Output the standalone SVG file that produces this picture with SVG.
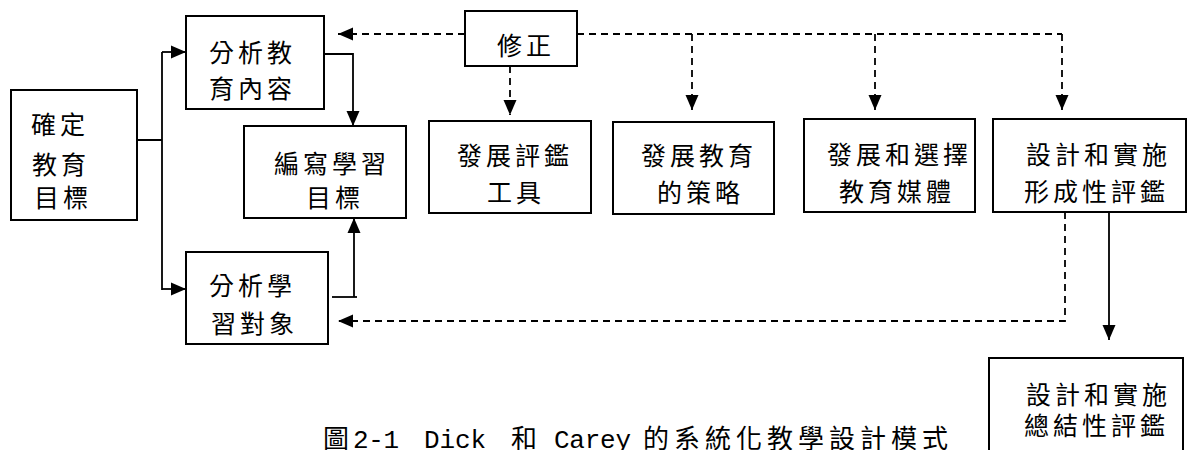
<svg xmlns="http://www.w3.org/2000/svg" width="1187" height="450" viewBox="0 0 1187 450">
<defs>
<marker id="arr" markerUnits="userSpaceOnUse" markerWidth="16" markerHeight="14" refX="15" refY="7" orient="auto">
<path d="M0,0.5 L15,7 L0,13.5 z" fill="#000"/>
</marker>
</defs>
<style>
.box{fill:#fff;stroke:#000;stroke-width:2}
.t{font-family:"Noto Sans CJK TC","Noto Sans CJK SC",sans-serif;font-size:25px;letter-spacing:4px;fill:#000}
.cap{font-family:"Noto Sans CJK TC",sans-serif;font-size:26px;fill:#000}
.lat{font-family:"Liberation Mono",monospace;font-size:26px}
.s{fill:none;stroke:#000;stroke-width:1.8}
.d{fill:none;stroke:#000;stroke-width:1.8;stroke-dasharray:7 5}
</style>
<rect width="1187" height="450" fill="#fff"/>
<g id="connectors">
<path class="s" d="M137,140 H162 M162,52 V290"/>
<path class="s" d="M162,52 H186" marker-end="url(#arr)"/>
<path class="s" d="M162,289 H186" marker-end="url(#arr)"/>
<path class="s" d="M317,54 H353 V126" marker-end="url(#arr)"/>
<path class="s" d="M332,297 H357"/>
<path class="s" d="M354,297 V218" marker-end="url(#arr)"/>
<path class="s" d="M1109,212 V340" marker-end="url(#arr)"/>
<path class="d" d="M465,34 H338" marker-end="url(#arr)"/>
<path class="d" d="M577,34 H1062"/>
<path class="d" d="M510,66 V115" marker-end="url(#arr)"/>
<path class="d" d="M692,34 V110" marker-end="url(#arr)"/>
<path class="d" d="M875,34 V110" marker-end="url(#arr)"/>
<path class="d" d="M1062,34 V110" marker-end="url(#arr)"/>
<path class="d" d="M1065,212 V321 H338" marker-end="url(#arr)"/>
</g>
<g id="n1"><rect class="box" x="11" y="90" width="126" height="130"/>
<text class="t" x="31" y="134">確定</text><text class="t" x="32" y="174">教育</text><text class="t" x="34" y="207">目標</text></g>
<g id="n2"><rect class="box" x="186" y="16" width="138" height="93"/>
<text class="t" x="209" y="62">分析教</text><text class="t" x="209" y="98">育內容</text></g>
<g id="n3"><rect class="box" x="244" y="126" width="162" height="92"/>
<text class="t" x="274" y="173">編寫學習</text><text class="t" x="306" y="207">目標</text></g>
<g id="n4"><rect class="box" x="186" y="252" width="142" height="92"/>
<text class="t" x="209" y="295">分析學</text><text class="t" x="211" y="333">習對象</text></g>
<g id="n5"><rect class="box" x="465" y="11" width="112" height="55"/>
<text class="t" x="497" y="55">修正</text></g>
<g id="n6"><rect class="box" x="429" y="121" width="162" height="92"/>
<text class="t" x="457" y="165">發展評鑑</text><text class="t" x="487" y="202">工具</text></g>
<g id="n7"><rect class="box" x="613" y="122" width="161" height="92"/>
<text class="t" x="641" y="165">發展教育</text><text class="t" x="657" y="202">的策略</text></g>
<g id="n8"><rect class="box" x="804" y="119" width="171" height="93"/>
<text class="t" x="827" y="164">發展和選擇</text><text class="t" x="839" y="201">教育媒體</text></g>
<g id="n9"><rect class="box" x="993" y="119" width="193" height="93"/>
<text class="t" x="1026" y="164">設計和實施</text><text class="t" x="1024" y="201">形成性評鑑</text></g>
<g id="n10"><rect class="box" x="989" y="358" width="194" height="100"/>
<text class="t" x="1026" y="404">設計和實施</text><text class="t" x="1024" y="435">總結性評鑑</text></g>
<g id="caption">
<text class="cap" y="448"><tspan x="323">圖</tspan><tspan class="lat" x="353" textLength="46">2-1</tspan><tspan class="lat" x="424" textLength="62">Dick</tspan><tspan x="511">和</tspan><tspan class="lat" x="554" textLength="77">Carey</tspan><tspan x="643" letter-spacing="5">的系統化教學設計模式</tspan></text>
</g>
</svg>
